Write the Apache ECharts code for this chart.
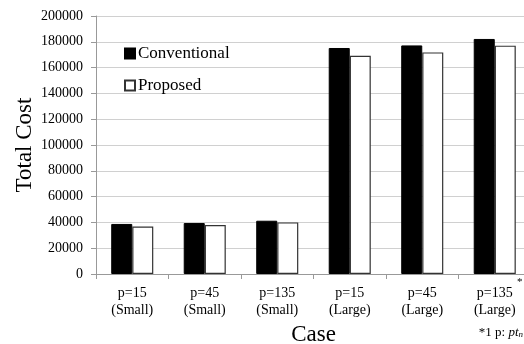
<!DOCTYPE html>
<html>
<head>
<meta charset="utf-8">
<script src="https://cdn.jsdelivr.net/npm/echarts@6/dist/echarts.min.js"></script>
<style>
  html, body { margin: 0; padding: 0; background: #fff; }
  #chart { width: 524px; height: 344px; }
</style>
</head>
<body>
<div id="chart"></div>
<script>
const categories = [
  "p=15\n(Small)", "p=45\n(Small)", "p=135\n(Small)",
  "p=15\n(Large)", "p=45\n(Large)", "p=135\n(Large)"
];
const conventional = [38800, 39500, 41300, 175200, 177200, 182200];
const proposed = [36800, 38000, 40000, 169200, 171800, 177000];

const font = "Liberation Serif";

const chart = echarts.init(document.getElementById("chart"));

const options = {
  animation: false,
  textStyle: { fontFamily: font, color: "#000" },
  grid: { left: 96, right: -7, top: 16, bottom: 70, outerBoundsMode: "none", containLabel: false },
  legend: {
    orient: "vertical",
    left: 119,
    top: 40,
    icon: "rect",
    itemWidth: 10,
    itemHeight: 10,
    itemGap: 15,
    textStyle: { fontFamily: font, fontSize: 17, color: "#000", padding: [0, 0, 0, -2] },
    data: ["Conventional", "Proposed"],
  },
  xAxis: {
    type: "category",
    data: categories,
    name: "Case",
    nameLocation: "middle",
    nameGap: 45,
    nameTextStyle: { fontFamily: font, fontSize: 23, color: "#000" },
    axisLine: { lineStyle: { color: "#999" } },
    axisTick: { show: true, length: 5, lineStyle: { color: "#999" } },
    axisLabel: { fontFamily: font, fontSize: 14, color: "#000", lineHeight: 17, margin: 11, interval: 0 },
  },
  yAxis: {
    type: "value",
    min: 0,
    max: 200000,
    interval: 20000,
    name: "Total Cost",
    nameLocation: "middle",
    nameGap: 60,
    nameMoveOverlap: false,
    nameTextStyle: { fontFamily: font, fontSize: 23, color: "#000" },
    axisLine: { show: true, lineStyle: { color: "#999" } },
    axisTick: { show: true, length: 5, lineStyle: { color: "#999" } },
    axisLabel: { fontFamily: font, fontSize: 14, color: "#000", margin: 13, formatter: (v) => String(v) },
    splitLine: { lineStyle: { color: "#d0d0d0" } },
  },
  series: [
    {
      name: "Conventional",
      type: "bar",
      data: conventional,
      barGap: "0%",
      barCategoryGap: "42%",
      itemStyle: { color: "#000", borderColor: "#000", borderWidth: 1 },
    },
    {
      name: "Proposed",
      type: "bar",
      data: proposed,
      itemStyle: { color: "#fff", borderColor: "#333", borderWidth: 1.2 },
    },
  ],
  graphic: [
    {
      type: "text",
      left: 517,
      top: 277,
      style: { text: "*", font: "11px " + font, fill: "#000" },
    },
    {
      type: "text",
      right: 1,
      top: 326,
      style: {
        text: "{a|*1 p: }{b|pt}{c|n}",
        rich: {
          a: { fontFamily: font, fontSize: 13, fill: "#000", verticalAlign: "bottom" },
          b: { fontFamily: font, fontSize: 13, fontStyle: "italic", fill: "#000", verticalAlign: "bottom" },
          c: { fontFamily: font, fontSize: 9, fontStyle: "italic", fill: "#000", padding: [6, 0, 0, 0] },
        },
      },
    },
  ],
};

chart.setOption(options);
</script>
</body>
</html>
